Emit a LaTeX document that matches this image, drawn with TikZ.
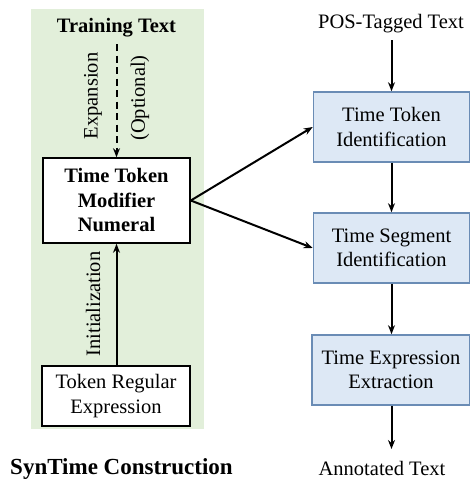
\documentclass[tikz,border=0pt]{standalone}
\usepackage{fontspec}
\setmainfont{Liberation Serif}
\usetikzlibrary{arrows.meta}
\definecolor{panelgreen}{HTML}{E2EFDA}
\definecolor{stepfill}{HTML}{DDE8F5}
\definecolor{stepline}{HTML}{6A8CB5}
\begin{document}
\begin{tikzpicture}[x=1pt,y=-1pt,
  font=\fontsize{20.5}{24.5}\selectfont,
  plainbox/.style={draw=black,line width=1.6pt,fill=white,align=center,inner sep=0pt},
  stagebox/.style={draw=stepline,line width=1.6pt,fill=stepfill,align=center,inner sep=0pt,
    minimum width=156pt,minimum height=70pt},
  flow/.style={line width=2pt,-{Stealth[length=9pt,width=7pt]}},
  lbl/.style={inner sep=0pt,align=center}]
\useasboundingbox (0,0) rectangle (470,479);
% construction panel
\fill[panelgreen] (31,9) rectangle (204,429);
\node[lbl,font=\fontsize{20.5}{24.5}\selectfont\bfseries] (train) at (116.5,28) {Training Text};
\node[plainbox,minimum width=147pt,minimum height=85pt,font=\fontsize{20.5}{24.5}\selectfont\bfseries]
  (mod) at (116.5,200.5) {Time Token\\Modifier\\Numeral};
\node[plainbox,minimum width=148pt,minimum height=60pt] (regex) at (116,396) {Token Regular\\Expression};
\coordinate (dtop) at (116.5,44);
\draw[flow,dashed,dash pattern=on 7pt off 4.5pt] (dtop) -- (mod.north);
\node[lbl,rotate=90] (expl) at (93,96) {Expansion};
\node[lbl,rotate=90] (optl) at (140,98) {(Optional)};
\draw[flow] (regex.north -| mod.north) -- (mod.south);
\node[lbl,rotate=90] (initl) at (93,304) {Initialization};
\node[lbl,font=\fontsize{23}{27}\selectfont\bfseries] (title) at (121.5,469) {SynTime Construction};
% pipeline
\node[lbl] (pos) at (391,24) {POS-Tagged Text};
\node[stagebox] (tti) at (391.5,127) {Time Token\\Identification};
\node[stagebox] (tsi) at (391.5,248) {Time Segment\\Identification};
\node[stagebox,minimum width=158pt] (tee) at (391,370) {Time Expression\\Extraction};
\node[lbl] (ann) at (382,468) {Annotated Text};
\coordinate (postail) at (391.5,40);
\coordinate (anntip) at (391.5,449);
\draw[flow] (postail) -- (tti.north);
\draw[flow] (tti.south) -- (tsi.north);
\draw[flow] (tsi.south) -- (tee.north -| tsi.south);
\draw[flow] (tee.south -| tsi.south) -- (anntip);
\draw[flow] (mod.east) -- (tti.west);
\draw[flow] (mod.east) -- (tsi.west);
\end{tikzpicture}
\end{document}
